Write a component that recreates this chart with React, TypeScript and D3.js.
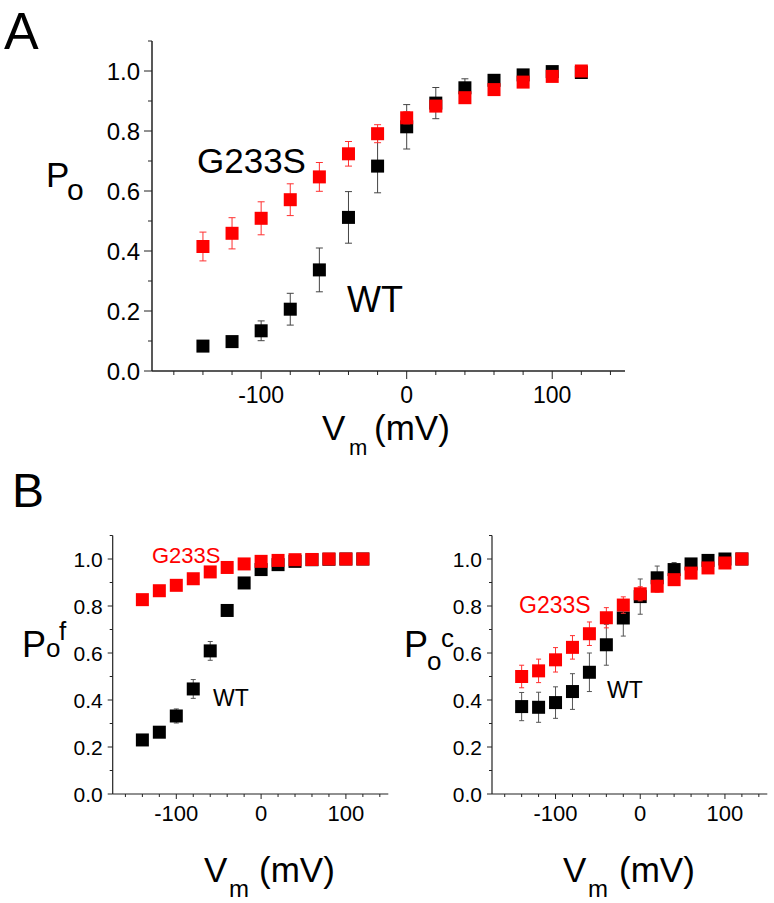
import React from "react";
import * as d3 from "d3";

const voltages = [-140, -120, -100, -80, -60, -40, -20, 0, 20, 40, 60, 80, 100, 120];

// Panel A: Po
const aWT = [0.083, 0.098, 0.134, 0.206, 0.337, 0.512, 0.683, 0.814, 0.893, 0.944, 0.969, 0.987, 0.998, 0.995];
const aWTErr = [0.01, 0.015, 0.033, 0.053, 0.073, 0.086, 0.089, 0.074, 0.052, 0.03, 0.015, 0.01, 0.005, 0.005];
const aG233S = [0.415, 0.459, 0.509, 0.571, 0.647, 0.724, 0.791, 0.844, 0.883, 0.911, 0.938, 0.963, 0.982, 1.0];
const aG233SErr = [0.048, 0.052, 0.055, 0.053, 0.048, 0.041, 0.03, 0.02, 0.015, 0.01, 0.01, 0.008, 0.005, 0.003];

// Panel B left: Po^f
const bfWT = [0.23, 0.263, 0.332, 0.447, 0.609, 0.781, 0.898, 0.955, 0.976, 0.99, 0.997, 0.999, 1.0, 1.0];
const bfWTErr = [0.01, 0.01, 0.03, 0.04, 0.04, 0.015, 0.01, 0.01, 0.005, 0.005, 0.003, 0.003, 0.003, 0.003];
const bfG233S = [0.827, 0.865, 0.888, 0.916, 0.945, 0.964, 0.979, 0.99, 0.994, 0.997, 0.998, 1.0, 1.0, 1.0];
const bfG233SErr = [0.005, 0.005, 0.005, 0.005, 0.005, 0.005, 0.005, 0.005, 0.004, 0.004, 0.003, 0.003, 0.003, 0.003];

// Panel B right: Po^c
const bcWT = [0.372, 0.369, 0.389, 0.436, 0.518, 0.635, 0.749, 0.84, 0.92, 0.955, 0.979, 0.994, 1.0, 1.0];
const bcWTErr = [0.06, 0.064, 0.067, 0.076, 0.082, 0.087, 0.077, 0.075, 0.05, 0.03, 0.02, 0.01, 0.005, 0.005];
const bcG233S = [0.5, 0.524, 0.571, 0.624, 0.682, 0.75, 0.804, 0.852, 0.884, 0.912, 0.94, 0.962, 0.983, 1.0];
const bcG233SErr = [0.048, 0.05, 0.052, 0.05, 0.05, 0.043, 0.035, 0.03, 0.025, 0.02, 0.015, 0.01, 0.008, 0.005];

const xTicks = d3.range(-160, 141, 20);
const xMajor = [-100, 0, 100];
const yTicks = d3.range(0, 1.101, 0.1);
const yMajor = [0, 0.2, 0.4, 0.6, 0.8, 1.0];

const FONT = "'Liberation Sans', Arial, Helvetica, sans-serif";
const RED = "#ff0000";

type Series = { values: number[]; errs: number[]; color: string; barColor: string };

type PanelProps = {
  left: number; right: number; top: number; bottom: number;
  series: Series[];
  xFont: number; yFont: number; xLabelOffset: number; yLabelOffset: number;
  majorLen: number; minorLen: number; marker: number; cap: number; axisWidth: number;
};

function Panel(p: PanelProps) {
  const x = d3.scaleLinear().domain([-175, 150]).range([p.left, p.right]);
  const y = d3.scaleLinear().domain([0, 1.1]).range([p.bottom, p.top]);
  const isMajorX = (t: number) => xMajor.includes(t);
  const isMajorY = (t: number) => yMajor.some((m) => Math.abs(m - t) < 1e-6);
  return (
    <g>
      {p.series.map((s, si) => (
        <g key={si}>
          {voltages.map((v, i) => {
            const cx = x(v);
            const y1 = y(s.values[i] + s.errs[i]);
            const y2 = y(s.values[i] - s.errs[i]);
            return (
              <g key={"e" + i} stroke={s.barColor} strokeWidth={1} fill="none">
                <line x1={cx} x2={cx} y1={y1} y2={y2} />
                <line x1={cx - p.cap / 2} x2={cx + p.cap / 2} y1={y1} y2={y1} />
                <line x1={cx - p.cap / 2} x2={cx + p.cap / 2} y1={y2} y2={y2} />
              </g>
            );
          })}
          {voltages.map((v, i) => (
            <rect
              key={"m" + i}
              x={x(v) - p.marker / 2}
              y={y(s.values[i]) - p.marker / 2}
              width={p.marker}
              height={p.marker}
              fill={s.color}
            />
          ))}
        </g>
      ))}
      {/* axes */}
      <g stroke="#222" strokeWidth={p.axisWidth} fill="none">
        <line x1={p.left} x2={p.right} y1={p.bottom} y2={p.bottom} />
        <line x1={p.left} x2={p.left} y1={p.top} y2={p.bottom} />
        {xTicks.map((t) => (
          <line key={"xt" + t} x1={x(t)} x2={x(t)} y1={p.bottom} y2={p.bottom + (isMajorX(t) ? p.majorLen : p.minorLen)} strokeWidth={1} />
        ))}
        {yTicks.map((t, i) => (
          <line key={"yt" + i} x1={p.left - (isMajorY(t) ? p.majorLen : p.minorLen)} x2={p.left} y1={y(t)} y2={y(t)} strokeWidth={1} />
        ))}
      </g>
      {xMajor.map((t) => (
        <text key={"xl" + t} x={x(t)} y={p.bottom + p.xLabelOffset} textAnchor="middle" fontSize={p.xFont} fontFamily={FONT} fill="#000">
          {t}
        </text>
      ))}
      {yMajor.map((t) => (
        <text key={"yl" + t} x={p.left - p.yLabelOffset} y={y(t)} dy="0.36em" textAnchor="end" fontSize={p.yFont} fontFamily={FONT} fill="#000">
          {t.toFixed(1)}
        </text>
      ))}
    </g>
  );
}

function T(props: { x: number; y: number; size: number; fill?: string; children: React.ReactNode }) {
  return (
    <text x={props.x} y={props.y} fontSize={props.size} fontFamily={FONT} fill={props.fill || "#000"}>
      {props.children}
    </text>
  );
}

export default function App() {
  const black = "#000";
  return (
    <svg width={774} height={903} style={{ position: "absolute", left: 0, top: 0, background: "#fff" }}>
      <rect width={774} height={903} fill="#fff" />
      {/* Panel A */}
      <Panel
        left={152} right={625} top={41} bottom={371}
        series={[
          { values: aWT, errs: aWTErr, color: black, barColor: "#444" },
          { values: aG233S, errs: aG233SErr, color: RED, barColor: "#ff3030" },
        ]}
        xFont={23} yFont={24} xLabelOffset={32} yLabelOffset={12}
        majorLen={8} minorLen={4} marker={13} cap={7} axisWidth={1.5}
      />
      <T x={4} y={49} size={52}>A</T>
      <T x={46} y={187} size={35}>P</T>
      <T x={67} y={200} size={30}>o</T>
      <T x={197} y={173} size={35}>G233S</T>
      <T x={347} y={312} size={36}>WT</T>
      <T x={322} y={440} size={35}>V</T>
      <T x={349} y={455} size={22}>m</T>
      <T x={374} y={440} size={35}>(mV)</T>

      {/* Panel B left */}
      <Panel
        left={112.7} right={388.3} top={535.5} bottom={794}
        series={[
          { values: bfWT, errs: bfWTErr, color: black, barColor: "#555" },
          { values: bfG233S, errs: bfG233SErr, color: RED, barColor: "#ff3030" },
        ]}
        xFont={22} yFont={21} xLabelOffset={27} yLabelOffset={10}
        majorLen={5} minorLen={3} marker={13} cap={5} axisWidth={1.2}
      />
      <T x={12} y={507} size={48}>B</T>
      <T x={22} y={657} size={36}>P</T>
      <T x={46} y={657} size={26}>o</T>
      <T x={59} y={640} size={26}>f</T>
      <T x={152} y={563} size={22} fill={RED}>G233S</T>
      <T x={213} y={706} size={23}>WT</T>
      <T x={204} y={882} size={35}>V</T>
      <T x={229} y={897} size={24}>m</T>
      <T x={259} y={882} size={35}>(mV)</T>

      {/* Panel B right */}
      <Panel
        left={492} right={767.3} top={535.5} bottom={794}
        series={[
          { values: bcWT, errs: bcWTErr, color: black, barColor: "#555" },
          { values: bcG233S, errs: bcG233SErr, color: RED, barColor: "#ff3030" },
        ]}
        xFont={22} yFont={21} xLabelOffset={27} yLabelOffset={10}
        majorLen={5} minorLen={3} marker={13} cap={5} axisWidth={1.2}
      />
      <T x={404} y={657} size={36}>P</T>
      <T x={427} y={670} size={26}>o</T>
      <T x={441} y={647} size={26}>c</T>
      <T x={519} y={613} size={23} fill={RED}>G233S</T>
      <T x={607} y={698} size={23}>WT</T>
      <T x={563} y={882} size={35}>V</T>
      <T x={588} y={897} size={24}>m</T>
      <T x={619} y={882} size={35}>(mV)</T>
    </svg>
  );
}
